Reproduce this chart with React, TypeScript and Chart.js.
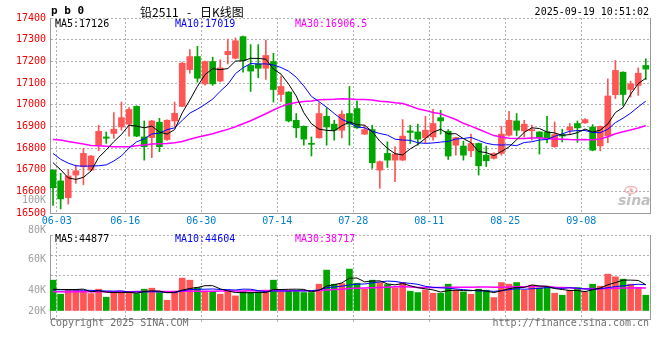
import React, { useEffect, useRef } from "react";
import { Chart, registerables } from "chart.js";

Chart.register(...registerables);

// ---------------- data ----------------
const dates = [
  "06-03","06-04","06-05","06-06","06-09","06-10","06-11","06-12","06-13","06-16",
  "06-17","06-18","06-19","06-20","06-23","06-24","06-25","06-26","06-27","06-30",
  "07-01","07-02","07-03","07-04","07-07","07-08","07-09","07-10","07-11","07-14",
  "07-15","07-16","07-17","07-18","07-21","07-22","07-23","07-24","07-25","07-28",
  "07-29","07-30","07-31","08-01","08-04","08-05","08-06","08-07","08-08","08-11",
  "08-12","08-13","08-14","08-15","08-18","08-19","08-20","08-21","08-22","08-25",
  "08-26","08-27","08-28","08-29","09-01","09-02","09-03","09-04","09-05","09-08",
  "09-09","09-10","09-11","09-12","09-15","09-16","09-17","09-18","09-19",
];

const axisDates = ["06-03", "06-16", "06-30", "07-14", "07-28", "08-11", "08-25", "09-08"];

const opens = [
  16698, 16648, 16571, 16675, 16714, 16698, 16813, 16851, 16867, 16897,
  16910, 16992, 16851, 16848, 16919, 16839, 16925, 16992, 17162, 17222,
  17096, 17199, 17109, 17231, 17214, 17314, 17181, 17188, 17168, 17199,
  17047, 17058, 16928, 16900, 16821, 16847, 16946, 16910, 16882, 16959,
  16982, 16864, 16885, 16698, 16775, 16744, 16744, 16879, 16874, 16847,
  16851, 16940, 16877, 16813, 16809, 16787, 16821, 16767, 16752, 16775,
  16859, 16925, 16879, 16880, 16874, 16874, 16806, 16862, 16882, 16913,
  16916, 16897, 16810, 16856, 17046, 17150, 17070, 17089, 17181,
];

const highs = [
  16700, 16683, 16701, 16721, 16798, 16766, 16905, 16874, 16963, 17012,
  16986, 16995, 16925, 16928, 16937, 16930, 17012, 17196, 17254, 17269,
  17201, 17219, 17207, 17303, 17308, 17316, 17277, 17277, 17298, 17237,
  17132, 17060, 16959, 16902, 16851, 17008, 16986, 16928, 16971, 17084,
  17017, 16905, 16905, 16740, 16828, 16806, 16931, 16905, 16910, 16946,
  16978, 16974, 16885, 16850, 16832, 16864, 16823, 16809, 16778, 16900,
  16969, 16959, 16928, 16905, 16876, 16946, 16920, 16887, 16913, 16925,
  16936, 16908, 16902, 17119, 17204, 17152, 17109, 17170, 17212,
];

const lows = [
  16535, 16519, 16541, 16637, 16630, 16695, 16787, 16821, 16844, 16882,
  16855, 16852, 16744, 16755, 16783, 16835, 16897, 16990, 17145, 17104,
  17090, 17089, 17105, 17188, 17211, 17150, 17061, 17124, 17116, 17012,
  17015, 16920, 16848, 16813, 16763, 16845, 16813, 16836, 16847, 16813,
  16890, 16862, 16706, 16614, 16710, 16645, 16742, 16821, 16813, 16824,
  16836, 16864, 16747, 16767, 16744, 16760, 16675, 16714, 16749, 16767,
  16855, 16856, 16851, 16836, 16772, 16824, 16803, 16828, 16864, 16826,
  16913, 16787, 16787, 16824, 17028, 16997, 17035, 17043, 17116,
];

const closes = [
  16617, 16565, 16671, 16695, 16775, 16763, 16877, 16845, 16887, 16940,
  16978, 16855, 16806, 16925, 16806, 16928, 16960, 17191, 17222, 17122,
  17199, 17096, 17170, 17246, 17295, 17204, 17155, 17168, 17227, 17070,
  17084, 16925, 16893, 16841, 16817, 16959, 16897, 16882, 16956, 16910,
  16893, 16885, 16732, 16737, 16744, 16772, 16855, 16872, 16841, 16882,
  16913, 16925, 16763, 16848, 16767, 16821, 16718, 16741, 16775, 16864,
  16928, 16882, 16910, 16882, 16848, 16847, 16862, 16855, 16897, 16893,
  16931, 16790, 16900, 17040, 17158, 17047, 17096, 17145, 17164,
];

const volumes = [
  52300, 28500, 35300, 35300, 34100, 29600, 37000, 23400, 32400, 33600,
  32400, 29600, 37000, 38700, 31300, 18200, 33600, 55700, 52300, 39800,
  33600, 33600, 28500, 35300, 25600, 33000, 31800, 32600, 33200, 52300,
  32400, 33600, 33600, 31300, 31300, 45500, 69400, 45500, 46600, 71100,
  47200, 37000, 52300, 48300, 44900, 39300, 48300, 33600, 31300, 35800,
  30200, 30200, 45500, 35300, 32400, 28500, 37000, 35300, 22800, 48300,
  45500, 48300, 35300, 43800, 39300, 42100, 30200, 26800, 35300, 39800,
  32400, 45500, 42100, 62500, 58000, 54000, 45500, 39300, 26800,
];

// moving-average values before enough history exists
const priceMa5Head = [16732, 16700, 16662, 16655];
const priceMa10Head = [16775, 16748, 16730, 16718, 16716, 16717, 16718, 16722, 16740];
const priceMa30Head = [
  16839, 16837, 16830, 16824, 16818, 16812, 16810, 16808, 16806, 16806,
  16806, 16810, 16814, 16818, 16820, 16821, 16824, 16830, 16840, 16850,
  16858, 16866, 16876, 16886, 16898, 16912, 16926, 16942, 16958,
];
const volMa5Head = [37000, 36500, 36500, 36500];
const volMa10Head = [36000, 36000, 35800, 35500, 35300, 35000, 34500, 34000, 33800];
const volMa30Head = [
  32500, 32500, 32400, 32500, 32600, 32600, 32500, 32700, 32700, 32800,
  32800, 32900, 33000, 33000, 33100, 33000, 33200, 33300, 33400, 33500,
  33600, 33700, 33800, 33900, 34000, 34100, 34200, 34400, 34600,
];

const priceMaLabels = ["MA5:17126", "MA10:17019", "MA30:16906.5"];
const volumeMaLabels = ["MA5:44877", "MA10:44604", "MA30:38717"];
const volumeAxisLabels = ["20K", "40K", "60K", "80K"];
const volumeLabelValues = [0, 35600, 88300, 137500];
const volumeGridValues = [59900, 93900, 129000];

const titleCode = "p b 0";
const titleName = ["铅2511", "-", "日K线图"];
const timeStamp = "2025-09-19 10:51:02";
const copyrightText = "Copyright 2025 SINA.COM";
const urlText = "http://finance.sina.com.cn";

// ---------------- styles ----------------
const UP = "#ff5555";
const DOWN = "#00a600";
const MA_COLORS = ["#000000", "#0000ff", "#ff00ff"];
const MA_WIDTHS = [1, 1, 1.5];
const MONO = "'DejaVu Sans Mono', monospace";
const GRID = "#b0b0b0";
const AXIS = "#9a9a9a";

function movingAverage(values: number[], n: number, head: number[]): number[] {
  return values.map((_, i) => {
    if (i < n - 1) return head[i];
    let s = 0;
    for (let k = i - n + 1; k <= i; k++) s += values[k];
    return s / n;
  });
}

const N = dates.length;
const X_MIN = -0.4;
const X_MAX = N - 0.45;
const candleColors = closes.map((c, i) => (c >= opens[i] ? UP : DOWN));

function xScale(showLabels: boolean, height: number) {
  return {
    type: "linear" as const,
    min: X_MIN,
    max: X_MAX,
    offset: false,
    afterBuildTicks: (s: any) => {
      s.ticks = axisDates.map((d) => ({ value: dates.indexOf(d) + 0.5 }));
    },
    afterFit: (s: any) => {
      s.height = height;
    },
    ticks: {
      display: showLabels,
      autoSkip: false,
      maxRotation: 0,
      color: "#0080cc",
      font: { family: MONO, size: 10 },
      padding: 2,
      callback: (v: any) => dates[Math.round(Number(v) - 0.5)],
    },
    grid: {
      color: GRID,
      offset: false,
      drawTicks: !showLabels,
      tickLength: 3,
      tickBorderDash: [2, 2],
    },
    border: { display: true, color: AXIS, dash: [2, 2] },
  };
}

function rightBorder(min: number, max: number) {
  return {
    type: "linear" as const,
    position: "right" as const,
    min,
    max,
    ticks: { display: false },
    grid: { display: false, drawTicks: false },
    border: { display: true, color: AXIS },
    afterFit: (s: any) => {
      s.width = 0;
    },
  };
}

function lineDataset(values: number[], k: number) {
  return {
    type: "line" as const,
    data: values.map((v, i) => ({ x: i, y: v })),
    borderColor: MA_COLORS[k],
    borderWidth: MA_WIDTHS[k],
    pointRadius: 0,
    tension: 0,
    fill: false,
    order: 0,
  };
}

const topTextPlugin = {
  id: "topTexts",
  afterDraw(chart: any) {
    const ctx = chart.ctx;
    const a = chart.chartArea;
    ctx.save();
    // sina watermark
    ctx.save();
    ctx.beginPath();
    ctx.rect(a.left, a.top, a.right - a.left, a.bottom - a.top);
    ctx.clip();
    ctx.strokeStyle = "rgba(230,110,110,0.5)";
    ctx.lineWidth = 1.5;
    ctx.beginPath();
    ctx.ellipse(631, 190, 6, 3.5, 0, 0, Math.PI * 2);
    ctx.stroke();
    ctx.fillStyle = "rgba(230,110,110,0.5)";
    ctx.beginPath();
    ctx.arc(631, 190, 1.8, 0, Math.PI * 2);
    ctx.fill();
    ctx.font = "italic bold 14px 'DejaVu Sans'";
    ctx.fillStyle = "rgba(150,150,150,0.6)";
    ctx.textBaseline = "alphabetic";
    ctx.textAlign = "left";
    ctx.fillText("sina", 618, 205);
    ctx.restore();

    ctx.textBaseline = "middle";
    ctx.textAlign = "left";
    ctx.fillStyle = "#000";
    ctx.font = `bold 11px ${MONO}`;
    ctx.fillText(titleCode, 51, 11);
    ctx.font = "12px 'Noto Sans CJK SC'";
    ctx.fillText(titleName[0], 140, 12);
    ctx.fillText(titleName[1], 187, 12);
    ctx.fillText(titleName[2], 200, 12);
    ctx.font = `10px ${MONO}`;
    ctx.textAlign = "right";
    ctx.fillText(timeStamp, 649, 12);
    ctx.textAlign = "left";
    const xs = [55, 175, 295];
    priceMaLabels.forEach((t, k) => {
      ctx.fillStyle = MA_COLORS[k];
      ctx.fillText(t, xs[k], 24);
    });
    ctx.fillStyle = "#a0a0a0";
    ctx.textAlign = "right";
    ctx.fillText("100K", 46, 200);
    ctx.restore();
  },
};

const volTextPlugin = {
  id: "volTexts",
  afterDraw(chart: any) {
    const ctx = chart.ctx;
    ctx.save();
    ctx.textBaseline = "middle";
    ctx.font = `10px ${MONO}`;
    ctx.textAlign = "left";
    const xs = [55, 175, 295];
    volumeMaLabels.forEach((t, k) => {
      ctx.fillStyle = MA_COLORS[k];
      ctx.fillText(t, xs[k], 14);
    });
    ctx.fillStyle = "#707070";
    ctx.fillText(copyrightText, 50, 98);
    ctx.textAlign = "right";
    ctx.fillText(urlText, 649, 98);
    ctx.restore();
  },
};

export default function App() {
  const topRef = useRef<HTMLCanvasElement | null>(null);
  const volRef = useRef<HTMLCanvasElement | null>(null);

  useEffect(() => {
    const ma5 = movingAverage(closes, 5, priceMa5Head);
    const ma10 = movingAverage(closes, 10, priceMa10Head);
    const ma30 = movingAverage(closes, 30, priceMa30Head);
    const vma5 = movingAverage(volumes, 5, volMa5Head);
    const vma10 = movingAverage(volumes, 10, volMa10Head);
    const vma30 = movingAverage(volumes, 30, volMa30Head);

    const common = {
      animation: false as const,
      responsive: false,
      devicePixelRatio: 1,
      events: [] as any[],
      plugins: { legend: { display: false }, tooltip: { enabled: false } },
    };

    const top = new Chart(topRef.current as HTMLCanvasElement, {
      type: "bar",
      data: {
        datasets: [
          {
            type: "bar",
            data: dates.map((_, i) => ({ x: i, y: [lows[i], highs[i]] })),
            backgroundColor: candleColors,
            barThickness: 1,
            maxBarThickness: 1,
            grouped: false,
            borderWidth: 0,
            order: 3,
          } as any,
          {
            type: "bar",
            data: dates.map((_, i) => ({ x: i, y: [opens[i], closes[i]] })),
            backgroundColor: candleColors,
            barThickness: 6,
            maxBarThickness: 6,
            minBarLength: 1,
            grouped: false,
            borderWidth: 0,
            order: 2,
          } as any,
          lineDataset(ma5, 0) as any,
          lineDataset(ma10, 1) as any,
          lineDataset(ma30, 2) as any,
        ],
      },
      options: {
        ...common,
        layout: { padding: { top: 18, right: 10, left: 0, bottom: 0 } },
        scales: {
          x: xScale(true, 15) as any,
          y: {
            type: "linear",
            position: "left",
            min: 16500,
            max: 17400,
            afterFit: (s: any) => {
              s.width = 50;
            },
            ticks: {
              stepSize: 100,
              autoSkip: false,
              color: "#ee0000",
              font: { family: MONO, size: 10 },
              padding: 4,
              callback: (v: any) => String(Math.round(Number(v))),
            },
            grid: { color: GRID, drawTicks: false },
            border: { display: true, color: AXIS, dash: [2, 2] },
          } as any,
          yR: rightBorder(16500, 17400) as any,
        },
      } as any,
      plugins: [topTextPlugin],
    });

    const allVolTicks = [...volumeLabelValues, ...volumeGridValues].sort((a, b) => a - b);
    const vol = new Chart(volRef.current as HTMLCanvasElement, {
      type: "bar",
      data: {
        datasets: [
          {
            type: "bar",
            data: volumes.map((v, i) => ({ x: i, y: v })),
            backgroundColor: candleColors,
            barThickness: 6,
            maxBarThickness: 6,
            grouped: false,
            borderWidth: 0,
            order: 2,
          } as any,
          lineDataset(vma5, 0) as any,
          lineDataset(vma10, 1) as any,
          lineDataset(vma30, 2) as any,
        ],
      },
      options: {
        ...common,
        layout: { padding: { top: 10, right: 10, left: 0, bottom: 0 } },
        scales: {
          x: xScale(false, 21) as any,
          y: {
            type: "linear",
            position: "left",
            min: -13600,
            max: 129000,
            afterBuildTicks: (s: any) => {
              s.ticks = allVolTicks.map((v) => ({ value: v }));
            },
            afterFit: (s: any) => {
              s.width = 50;
            },
            ticks: {
              autoSkip: false,
              color: "#a0a0a0",
              font: { family: MONO, size: 10 },
              padding: 4,
              callback: (v: any) => {
                const k = volumeLabelValues.indexOf(Number(v));
                return k >= 0 ? volumeAxisLabels[k] : "";
              },
            },
            grid: {
              drawTicks: false,
              color: (c: any) =>
                c.tick && volumeGridValues.includes(c.tick.value) ? GRID : "rgba(0,0,0,0)",
            },
            border: { display: true, color: AXIS, dash: [2, 2] },
          } as any,
          yR: rightBorder(-13600, 129000) as any,
        },
      } as any,
      plugins: [volTextPlugin],
    });

    return () => {
      top.destroy();
      vol.destroy();
    };
  }, []);

  return (
    <div
      style={{
        position: "fixed",
        left: 0,
        top: 0,
        width: 660,
        height: 360,
        background: "#ffffff",
        overflow: "hidden",
      }}
    >
      <canvas
        ref={topRef}
        width={660}
        height={228}
        style={{ position: "absolute", left: 0, top: 0, width: 660, height: 228 }}
      />
      <canvas
        ref={volRef}
        width={660}
        height={115}
        style={{ position: "absolute", left: 0, top: 225, width: 660, height: 115 }}
      />
    </div>
  );
}
